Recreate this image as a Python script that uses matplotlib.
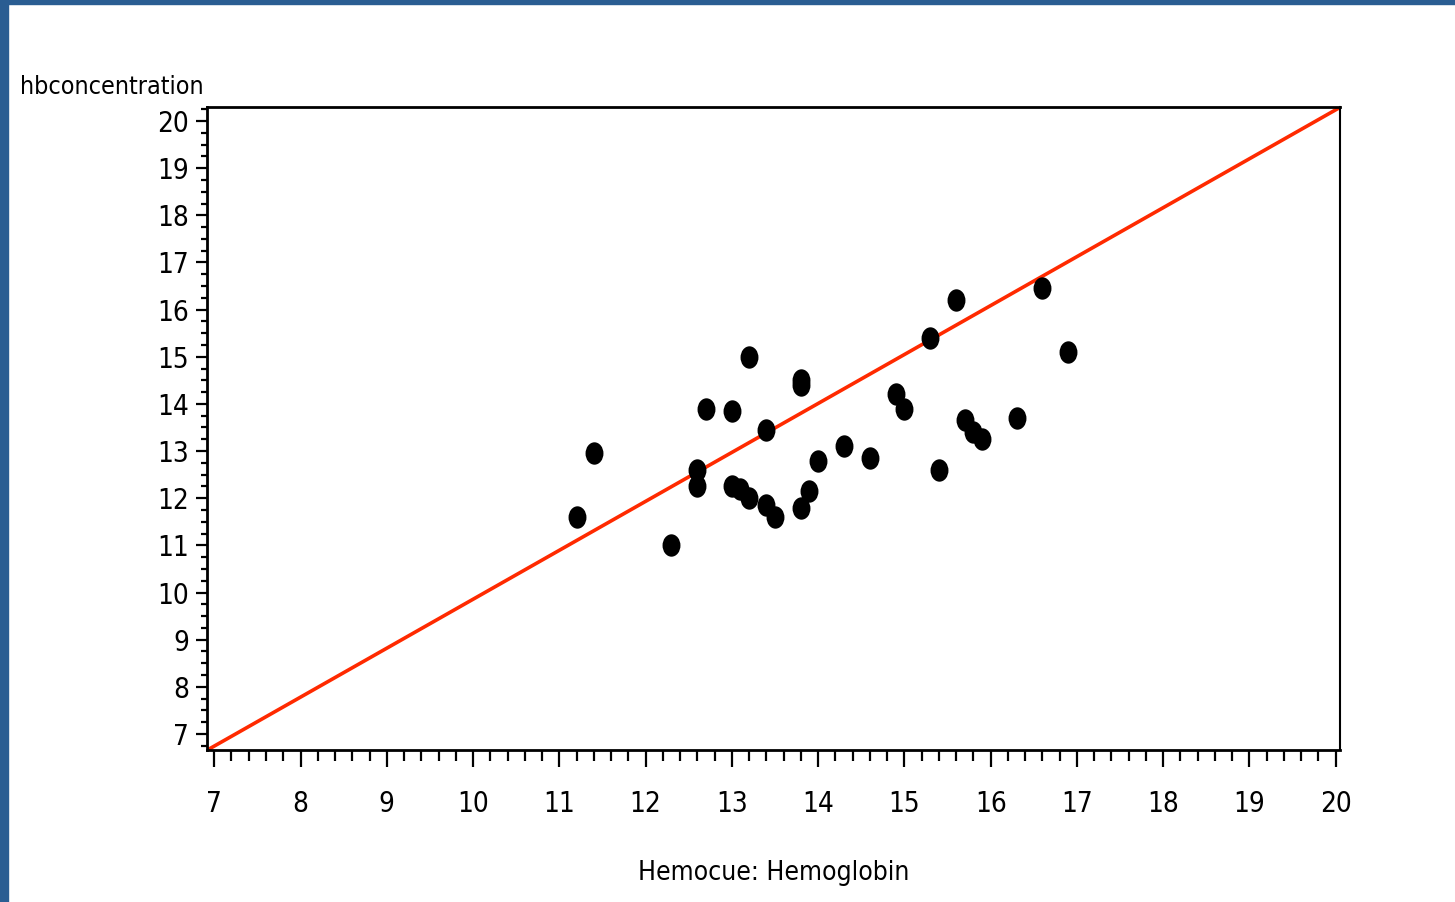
import matplotlib
matplotlib.use("Agg")
import matplotlib.pyplot as plt
from matplotlib.path import Path
from matplotlib.transforms import Affine2D
from matplotlib.patches import Rectangle
from matplotlib.ticker import MultipleLocator

plt.rcParams['font.family'] = ['DejaVu Sans']
plt.rcParams['font.stretch'] = 'condensed'

# Hemocue vs lab hb concentration
hemocue = [11.2, 11.4, 12.3, 12.6, 12.6, 12.7, 13.0, 13.0, 13.1, 13.2, 13.2,
           13.4, 13.4, 13.5, 13.8, 13.8, 13.8, 13.9, 14.0, 14.3, 14.6, 14.9,
           15.0, 15.3, 15.4, 15.6, 15.7, 15.8, 15.9, 16.3, 16.6, 16.9]
hbconc = [11.6, 12.95, 11.0, 12.6, 12.25, 13.9, 13.85, 12.25, 12.2, 15.0, 12.0,
          13.45, 11.85, 11.6, 14.5, 14.4, 11.8, 12.15, 12.8, 13.1, 12.85, 14.2,
          13.9, 15.4, 12.6, 16.2, 13.65, 13.4, 13.25, 13.7, 16.45, 15.1]

x_ticks = list(range(7, 21))
y_ticks = list(range(7, 21))

fig = plt.figure(figsize=(14.55, 9.02), dpi=100)
ax = fig.add_axes([0.1425, 0.1685, 0.7785, 0.7125])

# blue frame on left and top edge
blue = '#2a5d92'
fig.add_artist(Rectangle((0, 0), 8 / 1455, 1, transform=fig.transFigure,
                         color=blue, zorder=0))
fig.add_artist(Rectangle((0, 1 - 4 / 902), 1, 4 / 902, transform=fig.transFigure,
                         color=blue, zorder=0))

# diagonal reference line, corner to corner
ax.plot([0, 1], [0, 1], transform=ax.transAxes, color='#ff2a00', lw=2.6, zorder=2)

oval = Path.unit_circle().transformed(Affine2D().scale(0.8, 1.0))
ax.scatter(hemocue, hbconc, marker=oval, s=260, color='black', zorder=3,
           linewidths=0)

ax.set_xlim(6.92, 20.05)
ax.set_ylim(6.66, 20.29)
ax.set_xticks(x_ticks)
ax.set_yticks(y_ticks)
ax.xaxis.set_minor_locator(MultipleLocator(0.2))
ax.yaxis.set_minor_locator(MultipleLocator(0.25))

ax.tick_params(axis='x', which='major', length=12, width=1.6, pad=17,
               labelsize=20, direction='out')
ax.tick_params(axis='x', which='minor', length=8, width=1.6, direction='out')
ax.tick_params(axis='y', which='major', length=8, width=1.6, pad=5,
               labelsize=20, direction='out')
ax.tick_params(axis='y', which='minor', length=4, width=1.6, direction='out')

for side in ['left', 'bottom', 'top']:
    ax.spines[side].set_linewidth(2)
ax.spines['right'].set_linewidth(1.5)

ax.set_xlabel('Hemocue: Hemoglobin', fontsize=19, labelpad=30)
fig.text(20 / 1455, 1 - 87 / 902, 'hbconcentration', fontsize=18,
         ha='left', va='center')

fig.savefig('out.png', dpi=100)
